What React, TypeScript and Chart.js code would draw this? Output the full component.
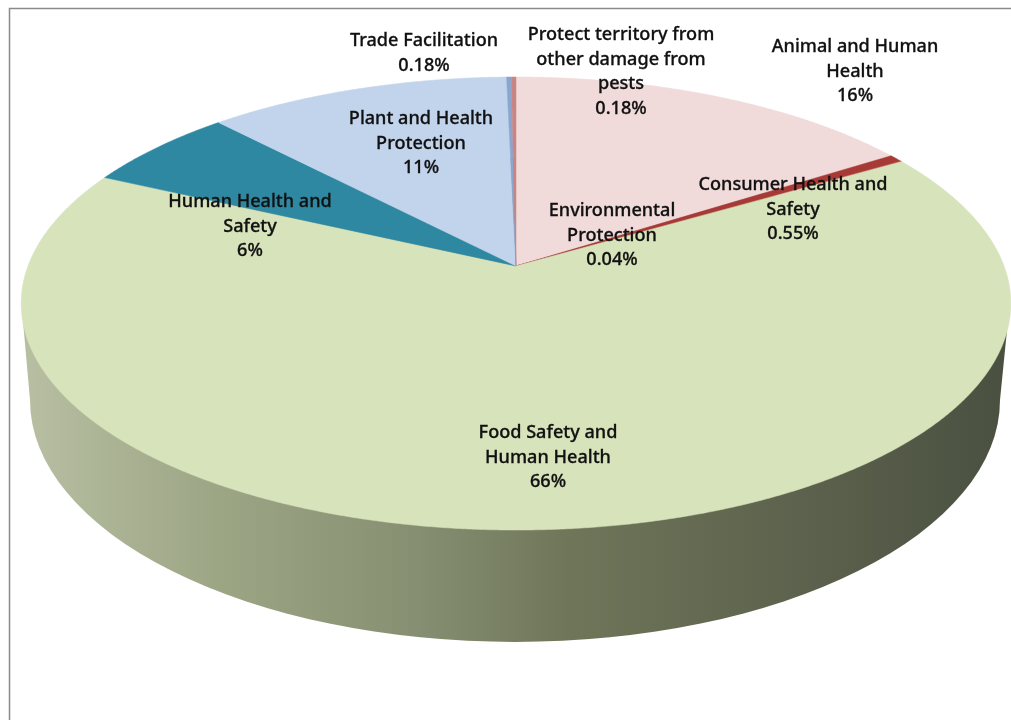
import React, { useEffect, useRef } from "react";
import { Chart, registerables } from "chart.js";

Chart.register(...registerables);

const categories = [
  "Animal and Human Health",
  "Consumer Health and Safety",
  "Environmental Protection",
  "Food Safety and Human Health",
  "Human Health and Safety",
  "Plant and Health Protection",
  "Trade Facilitation",
  "Protect territory from other damage from pests",
];
const values = [15.8, 0.55, 0.04, 65.6, 5.95, 11.6, 0.18, 0.18];
const percentLabels = ["16%", "0.55%", "0.04%", "66%", "6%", "11%", "0.18%", "0.18%"];
const sliceColors = ["#f0dada", "#a83a36", "#b5605c", "#d7e3ba", "#2f88a2", "#c2d4ec", "#8aa6cf", "#c98583"];

const labelLines = [
  ["Animal and Human", "Health"],
  ["Consumer Health and", "Safety"],
  ["Environmental", "Protection"],
  ["Food Safety and", "Human Health"],
  ["Human Health and", "Safety"],
  ["Plant and Health", "Protection"],
  ["Trade Facilitation"],
  ["Protect territory from", "other damage from", "pests"],
];
// centre x and first-line y of each label
const labelAnchors = [
  [855, 47], [793, 185], [612, 211], [548, 433], [250, 202], [421, 119], [424, 41], [621, 35],
];

// perspective of the top face
const persp = { cx: 516, cy: 266, R: 488, S: 220.3, k: 0.1656 };
const project = (a: number): [number, number] => {
  const u = Math.cos(a), v = Math.sin(a), d = 1 - persp.k * v;
  return [persp.cx + (persp.R * u) / d, persp.cy + (persp.S * v) / d];
};

const pie3d = {
  id: "pie3d",
  beforeDraw(chart: any) {
    const c = chart.ctx;
    c.save();
    c.fillStyle = "#ffffff";
    c.fillRect(0, 0, chart.width, chart.height);
    c.strokeStyle = "#8a8a8a";
    c.lineWidth = 1.5;
    c.beginPath();
    c.moveTo(9.5, 720);
    c.lineTo(9.5, 8.5);
    c.lineTo(1011, 8.5);
    c.stroke();
    c.restore();
  },
  beforeDatasetDraw(chart: any) {
    const c = chart.ctx;
    const arcs = chart.getDatasetMeta(0).data;
    c.save();
    // side wall
    const g = c.createLinearGradient(21, 0, 1010, 0);
    g.addColorStop(0, "#b8bfa3");
    g.addColorStop(0.2, "#9ca584");
    g.addColorStop(0.4, "#878f72");
    g.addColorStop(0.55, "#6f7659");
    g.addColorStop(0.8, "#5b614c");
    g.addColorStop(1, "#4a5040");
    c.fillStyle = g;
    c.beginPath();
    c.ellipse(515, 400, 485, 242, 0, 0, Math.PI * 2);
    c.fill();
    c.beginPath();
    c.moveTo(22, 310);
    c.lineTo(30, 400);
    c.lineTo(1000, 400);
    c.lineTo(1009, 310);
    c.closePath();
    c.fill();
    // top face
    arcs.forEach((el: any) => {
      const color = el.options.backgroundColor;
      c.fillStyle = color;
      c.strokeStyle = color;
      c.lineWidth = 0.5;
      c.beginPath();
      c.moveTo(persp.cx, persp.cy);
      const n = Math.max(2, Math.ceil((el.endAngle - el.startAngle) / 0.005));
      for (let i = 0; i <= n; i++) {
        const [x, y] = project(el.startAngle + ((el.endAngle - el.startAngle) * i) / n);
        c.lineTo(x, y);
      }
      c.closePath();
      c.fill();
      c.stroke();
    });
    c.restore();
    return false;
  },
  afterDatasetsDraw(chart: any) {
    const c = chart.ctx;
    c.save();
    c.font = '500 18.1px "Noto Sans"';
    c.fillStyle = "#111111";
    c.strokeStyle = "#111111";
    c.lineWidth = 0.3;
    c.textAlign = "center";
    c.textBaseline = "middle";
    labelLines.forEach((lines, i) => {
      const [x, y] = labelAnchors[i];
      [...lines, percentLabels[i]].forEach((t, j) => {
        c.fillText(t, x, y + j * 24.6);
        c.strokeText(t, x, y + j * 24.6);
      });
    });
    c.restore();
  },
};

export default function App() {
  const ref = useRef<HTMLCanvasElement>(null);
  useEffect(() => {
    const chart = new Chart(ref.current!, {
      type: "pie",
      data: {
        labels: categories,
        datasets: [{ data: values, backgroundColor: sliceColors, borderWidth: 0 }],
      },
      options: {
        animation: false,
        responsive: false,
        plugins: { legend: { display: false }, tooltip: { enabled: false } },
      },
      plugins: [pie3d],
    } as any);
    return () => chart.destroy();
  }, []);
  return (
    <div style={{ position: "absolute", left: 0, top: 0, width: 1011, height: 720 }}>
      <canvas ref={ref} width={1011} height={720} style={{ display: "block" }} />
    </div>
  );
}
